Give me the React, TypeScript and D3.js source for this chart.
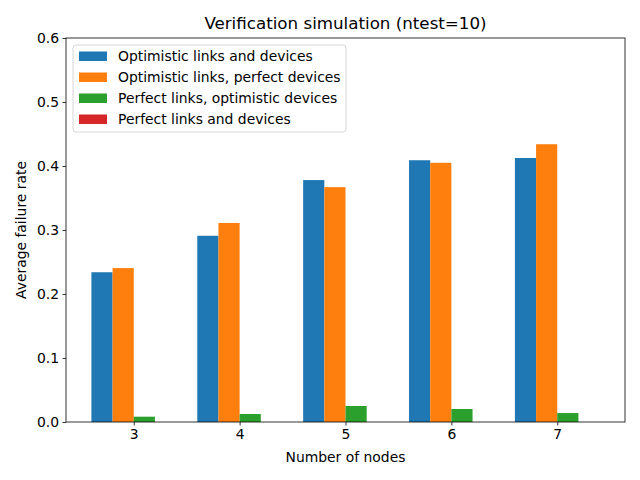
import { useRef, useEffect } from 'react';
import * as d3 from 'd3';

const nodes = [3, 4, 5, 6, 7];
const seriesNames = [
  'Optimistic links and devices',
  'Optimistic links, perfect devices',
  'Perfect links, optimistic devices',
  'Perfect links and devices',
];
const optimisticBoth = [0.234, 0.291, 0.378, 0.409, 0.4125];
const optimisticLinksPerfectDevices = [0.2405, 0.311, 0.367, 0.405, 0.434];
const perfectLinksOptimisticDevices = [0.0083, 0.0125, 0.025, 0.0203, 0.014];
const perfectBoth = [0, 0, 0, 0, 0];
const yTicks = [0, 0.1, 0.2, 0.3, 0.4, 0.5, 0.6];
const colors = ['#1f77b4', '#ff7f0e', '#2ca02c', '#d62728'];

export default function App() {
  const svgRef = useRef<SVGSVGElement>(null);

  useEffect(() => {
    if (!svgRef.current) return;
    const svg = d3.select(svgRef.current);
    svg.selectAll('*').remove();

    const width = 640;
    const height = 480;
    const margin = { top: 38, right: 15, bottom: 58, left: 66 };
    const innerWidth = width - margin.left - margin.right;
    const innerHeight = height - margin.top - margin.bottom;
    const font = 'DejaVu Sans, sans-serif';

    svg.attr('width', width).attr('height', height);
    svg.append('rect').attr('width', width).attr('height', height).attr('fill', '#fff');

    const g = svg.append('g').attr('transform', `translate(${margin.left},${margin.top})`);

    const barW = 0.2;
    const x = d3
      .scaleLinear()
      .domain([2.36, 7.64])
      .range([0, innerWidth]);
    const y = d3.scaleLinear().domain([0, 0.6]).range([innerHeight, 0]);

    const series = [optimisticBoth, optimisticLinksPerfectDevices, perfectLinksOptimisticDevices, perfectBoth];

    // Bars
    series.forEach((vals, i) => {
      g.selectAll(`.bar-${i}`)
        .data(vals)
        .enter()
        .append('rect')
        .attr('x', (_, j) => x(nodes[j] + (i - 2) * barW))
        .attr('y', (d) => y(d))
        .attr('width', x(barW) - x(0))
        .attr('height', (d) => innerHeight - y(d))
        .attr('fill', colors[i]);
    });

    // X axis
    const xAxis = g
      .append('g')
      .attr('transform', `translate(0,${innerHeight})`)
      .call(d3.axisBottom(x).tickValues(nodes).tickFormat(d3.format('d')).tickSize(3.5).tickPadding(3.5));
    xAxis.select('.domain').remove();
    xAxis.selectAll('line').attr('stroke', '#000').attr('stroke-width', 0.8);
    xAxis.selectAll('text').attr('font-family', font).attr('font-size', 13.9).attr('fill', '#000');

    // Y axis
    const yAxis = g
      .append('g')
      .call(d3.axisLeft(y).tickValues(yTicks).tickFormat(d3.format('.1f')).tickSize(3.5).tickPadding(3.5));
    yAxis.select('.domain').remove();
    yAxis.selectAll('line').attr('stroke', '#000').attr('stroke-width', 0.8);
    yAxis.selectAll('text').attr('font-family', font).attr('font-size', 13.9).attr('fill', '#000');

    // Frame
    g.append('rect')
      .attr('width', innerWidth)
      .attr('height', innerHeight)
      .attr('fill', 'none')
      .attr('stroke', '#000')
      .attr('stroke-width', 0.8);

    // Title and labels
    svg.append('text')
      .attr('x', margin.left + innerWidth / 2)
      .attr('y', 29)
      .attr('text-anchor', 'middle')
      .attr('font-family', font)
      .attr('font-size', 16.7)
      .text('Verification simulation (ntest=10)');

    svg.append('text')
      .attr('x', margin.left + innerWidth / 2)
      .attr('y', 462)
      .attr('text-anchor', 'middle')
      .attr('font-family', font)
      .attr('font-size', 13.9)
      .text('Number of nodes');

    svg.append('text')
      .attr('transform', `translate(26,${margin.top + innerHeight / 2}) rotate(-90)`)
      .attr('text-anchor', 'middle')
      .attr('font-family', font)
      .attr('font-size', 13.9)
      .text('Average failure rate');

    // Legend
    const legend = g.append('g').attr('transform', 'translate(7,7)');
    legend.append('rect')
      .attr('width', 273)
      .attr('height', 87)
      .attr('rx', 3)
      .attr('fill', '#fff')
      .attr('fill-opacity', 0.8)
      .attr('stroke', '#ccc')
      .attr('stroke-width', 0.8);
    seriesNames.forEach((name, i) => {
      const row = legend.append('g').attr('transform', `translate(0,${11 + i * 21})`);
      row.append('rect')
        .attr('x', 6)
        .attr('y', -4.5)
        .attr('width', 28)
        .attr('height', 9.5)
        .attr('fill', colors[i]);
      row.append('text')
        .attr('x', 45)
        .attr('y', 5)
        .attr('font-family', font)
        .attr('font-size', 13.9)
        .text(name);
    });
  }, []);

  return <svg ref={svgRef} style={{ position: 'absolute', left: 0, top: 0 }} />;
}
